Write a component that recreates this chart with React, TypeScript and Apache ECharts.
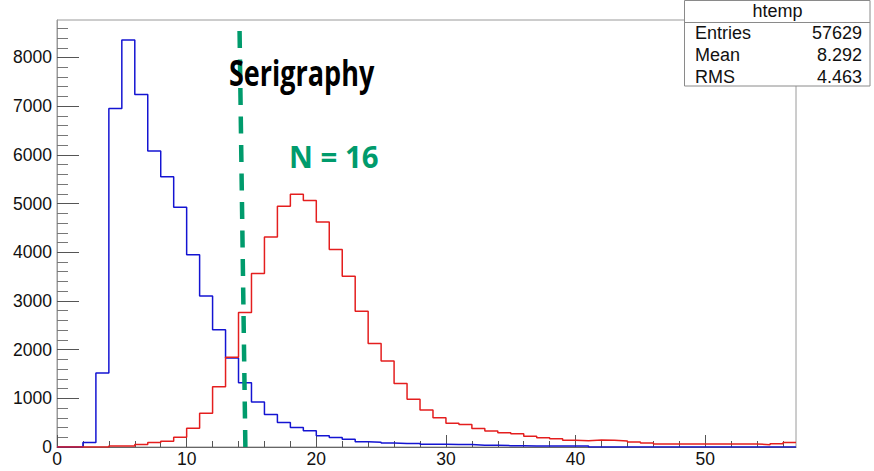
import React, { useEffect, useRef } from "react";
import * as echarts from "echarts";

// Histogram bin contents, bins of width 1 starting at x = 0
const blueCounts = [
  0, 0, 90, 1520, 6950, 8360, 7240, 6080, 5550, 4925,
  3950, 3100, 2410, 1830, 1320, 925, 670, 505, 400, 336,
  233, 193, 158, 110, 97, 82, 70, 70, 55, 55,
  52, 50, 38, 35, 28, 26, 22, 20, 20, 18,
  18, 0, 0, 0, 0, 0, 0, 0, 0, 0,
  0, 0, 0, 0, 0, 0, 0,
];
const redCounts = [
  0, 0, 0, 0, 20, 20, 50, 90, 117, 200,
  384, 692, 1240, 1843, 2760, 3562, 4315, 4945, 5192, 5062,
  4623, 4055, 3507, 2788, 2124, 1767, 1302, 980, 760, 600,
  490, 460, 378, 329, 295, 274, 220, 192, 172, 137,
  130, 144, 137, 124, 103, 82, 62, 62, 62, 62,
  62, 62, 62, 62, 48, 68, 90,
];
const binStart = 0;
const binWidth = 1;

const xMajorTicks = [0, 10, 20, 30, 40, 50];
const xMinorTicks = [2, 4, 6, 8, 12, 14, 16, 18, 22, 24, 26, 28, 32, 34, 36, 38, 42, 44, 46, 48, 52, 54, 56];
const yMajorTicks = [0, 1000, 2000, 3000, 4000, 5000, 6000, 7000, 8000];
const yMinorTicks = [
  200, 400, 600, 800, 1200, 1400, 1600, 1800, 2200, 2400, 2600, 2800,
  3200, 3400, 3600, 3800, 4200, 4400, 4600, 4800, 5200, 5400, 5600, 5800,
  6200, 6400, 6600, 6800, 7200, 7400, 7600, 7800, 8200, 8400, 8600,
];
const xMin = 0;
const xMax = 57;
const yMin = 0;
const yMax = 8770;

// dashed cut line (bottom point, top point) in data coordinates
const cutLine = [
  [14.53, 0],
  [14.07, 8770],
];

const statsTitle = "htemp";
const statsLabels = ["Entries", "Mean", "RMS"];
const statsValues = ["57629", "8.292", "4.463"];
const annotation1 = "Serigraphy";
const annotation2 = "N = 16";

function toSteps(counts: number[]) {
  const pts: number[][] = [];
  counts.forEach((v, i) => {
    const lo = binStart + i * binWidth;
    pts.push([lo, v]);
    pts.push([lo + binWidth, v]);
  });
  return pts;
}

export default function App() {
  const ref = useRef<HTMLDivElement>(null);
  useEffect(() => {
    if (!ref.current) return;
    const chart = echarts.init(ref.current, null, { renderer: "svg" });
    const labelFont = "'Liberation Sans', Arial, sans-serif";
    const statsRowsY = [33.2, 55.3, 77.2];
    const graphics: any[] = [
      {
        type: "rect",
        z: 100,
        shape: { x: 684.5, y: 0.5, width: 185.5, height: 85.5 },
        style: { fill: "#fff", stroke: "#8a8a8a", lineWidth: 1 },
      },
      {
        type: "line",
        z: 101,
        shape: { x1: 684.5, y1: 22.5, x2: 870, y2: 22.5 },
        style: { stroke: "#8a8a8a", lineWidth: 1 },
      },
      {
        type: "text",
        z: 102,
        x: 777.5,
        y: 10.5,
        style: {
          text: statsTitle,
          fill: "#111",
          font: `18px ${labelFont}`,
          textAlign: "center",
          textVerticalAlign: "middle",
        },
      },
    ];
    statsLabels.forEach((l, i) => {
      graphics.push({
        type: "text",
        z: 102,
        x: 695,
        y: statsRowsY[i],
        style: { text: l, fill: "#111", font: `18px ${labelFont}`, textAlign: "left", textVerticalAlign: "middle" },
      });
      graphics.push({
        type: "text",
        z: 102,
        x: 862,
        y: statsRowsY[i],
        style: { text: statsValues[i], fill: "#111", font: `18px ${labelFont}`, textAlign: "right", textVerticalAlign: "middle" },
      });
    });
    graphics.push({
      type: "text",
      z: 110,
      x: 229,
      y: 72,
      scaleX: 0.75,
      style: {
        text: annotation1,
        fill: "#000",
        font: "bold 36px 'Open Sans', sans-serif",
        textAlign: "left",
        textVerticalAlign: "middle",
      },
    });
    graphics.push({
      type: "text",
      z: 110,
      x: 289,
      y: 156,
      scaleX: 0.98,
      style: {
        text: annotation2,
        fill: "#009b6c",
        font: "bold 30px 'Open Sans', sans-serif",
        textAlign: "left",
        textVerticalAlign: "middle",
      },
    });

    const option: any = {
      animation: false,
      grid: {
        left: 57,
        right: 78,
        top: 20,
        bottom: 24,
        show: true,
        borderColor: "#9a9a9a",
        borderWidth: 1,
        backgroundColor: "transparent",
        containLabel: false,
      },
      xAxis: [
        {
          type: "value",
          min: xMin,
          max: xMax,
          position: "bottom",
          splitLine: { show: false },
          axisLine: { show: true, lineStyle: { color: "#666", width: 1 } },
          axisTick: {
            show: true,
            inside: true,
            length: 12,
            customValues: xMajorTicks,
            lineStyle: { color: "#555" },
          },
          axisLabel: {
            customValues: xMajorTicks,
            formatter: (v: number) => String(v),
            margin: 3,
            fontSize: 17.5,
            fontFamily: labelFont,
            color: "#111",
          },
        },
        {
          type: "value",
          min: xMin,
          max: xMax,
          position: "bottom",
          offset: 0,
          splitLine: { show: false },
          axisLine: { show: false },
          axisLabel: { show: false },
          axisTick: {
            show: true,
            inside: true,
            length: 6,
            customValues: xMinorTicks,
            lineStyle: { color: "#555" },
          },
        },
      ],
      yAxis: [
        {
          type: "value",
          min: yMin,
          max: yMax,
          position: "left",
          splitLine: { show: false },
          axisLine: { show: true, lineStyle: { color: "#9a9a9a", width: 1 } },
          axisTick: {
            show: true,
            inside: true,
            length: 22,
            customValues: yMajorTicks,
            lineStyle: { color: "#555" },
          },
          axisLabel: {
            customValues: yMajorTicks,
            formatter: (v: number) => String(v),
            margin: 5,
            fontSize: 17.5,
            fontFamily: labelFont,
            color: "#111",
          },
        },
        {
          type: "value",
          min: yMin,
          max: yMax,
          position: "left",
          offset: 0,
          splitLine: { show: false },
          axisLine: { show: false },
          axisLabel: { show: false },
          axisTick: {
            show: true,
            inside: true,
            length: 11,
            customValues: yMinorTicks,
            lineStyle: { color: "#777" },
          },
        },
      ],
      series: [
        {
          name: "blue",
          type: "line",
          data: toSteps(blueCounts),
          showSymbol: false,
          symbol: "none",
          clip: true,
          lineStyle: { color: "#1414d2", width: 1.5 },
          z: 2,
        },
        {
          name: "red",
          type: "line",
          data: toSteps(redCounts),
          showSymbol: false,
          symbol: "none",
          clip: true,
          lineStyle: { color: "#e41e1e", width: 1.5 },
          z: 3,
        },
        {
          name: "cut",
          type: "line",
          data: [],
          z: 5,
          markLine: {
            silent: true,
            symbol: ["none", "none"],
            label: { show: false },
            lineStyle: { color: "#009b6c", width: 4.5, type: [17, 11.5], opacity: 1 },
            data: [[{ coord: cutLine[0] }, { coord: cutLine[1] }]],
          },
        },
      ],
      graphic: graphics,
    };
    chart.setOption(option);
    return () => chart.dispose();
  }, []);
  return <div ref={ref} style={{ width: 874, height: 471, position: "absolute", left: 0, top: 0 }} />;
}
